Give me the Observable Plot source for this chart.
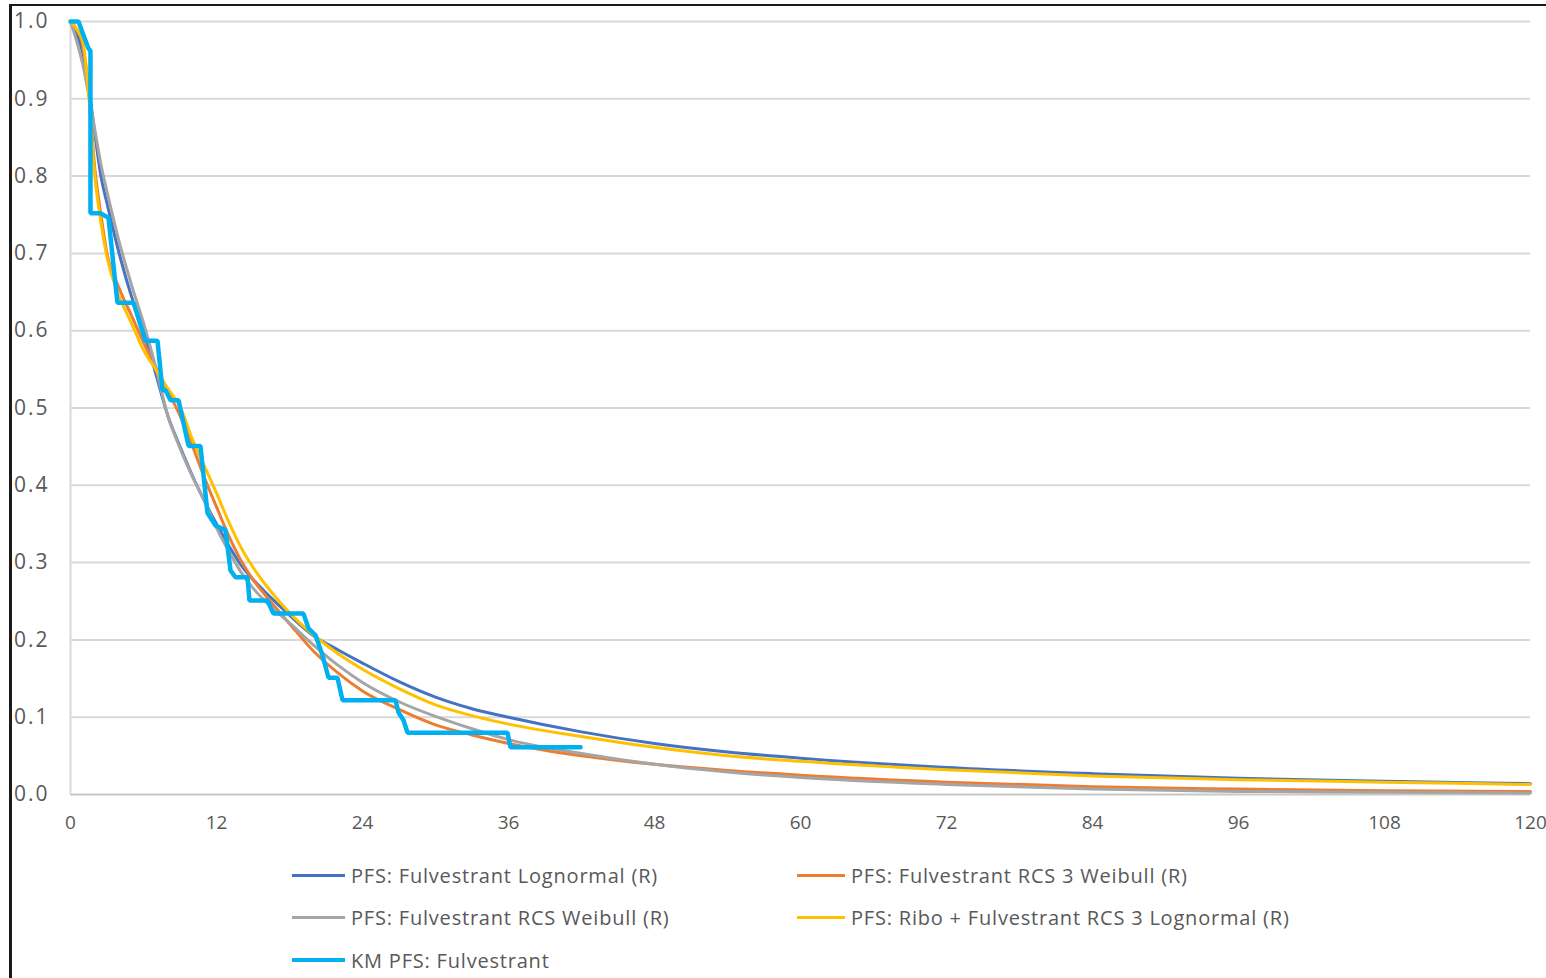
<!DOCTYPE html>
<html>
<head>
<meta charset="utf-8">
<script src="https://cdn.jsdelivr.net/npm/d3@7"></script>
<script src="https://cdn.jsdelivr.net/npm/@observablehq/plot@0.6"></script>
<style>
  html, body { margin: 0; padding: 0; background: #fff; }
  body { width: 1546px; height: 978px; position: relative; overflow: hidden; font-family: "Open Sans", sans-serif; }
  #frame { position: absolute; left: 9px; top: 4px; width: 1600px; height: 1000px; border-left: 3px solid #1a1a1a; border-top: 2px solid #1a1a1a; pointer-events: none; }
  #chart { position: absolute; left: 0; top: 0; }
  #chart g[aria-label="y-axis tick label"] text { letter-spacing: 2px; }
  .leg { position: absolute; display: flex; align-items: center; color: #595959; font-size: 20px; letter-spacing: 0.8px; white-space: nowrap; }
  .leg .sw { height: 3px; margin-right: 6px; }
</style>
</head>
<body>
<div id="chart"></div>
<div id="legend"></div>
<div id="frame"></div>
<script>
// ---- data (months, survival proportion) ----
const months = [0,0.5,1,1.5,2,2.5,3,4,5,6,7,8,9,10,11,12,13,14,15,16,18,20,22,24,27,30,33,36,42,48,54,60,72,84,96,108,120];
const fulvLognormal = [1,0.985,0.96,0.915,0.855,0.80,0.765,0.70,0.645,0.60,0.545,0.49,0.45,0.413,0.38,0.35,0.322,0.297,0.278,0.262,0.232,0.205,0.187,0.170,0.146,0.126,0.111,0.100,0.081,0.066,0.055,0.047,0.035,0.027,0.021,0.017,0.014];
const fulvRcs3Weibull = [1,0.99,0.97,0.91,0.81,0.75,0.70,0.655,0.62,0.585,0.553,0.522,0.49,0.452,0.41,0.372,0.335,0.303,0.278,0.258,0.221,0.185,0.157,0.134,0.110,0.090,0.077,0.066,0.050,0.039,0.031,0.025,0.016,0.010,0.007,0.005,0.004];
const fulvRcsWeibull = [1,0.975,0.945,0.905,0.86,0.815,0.78,0.715,0.66,0.61,0.553,0.49,0.448,0.412,0.38,0.345,0.315,0.288,0.267,0.25,0.222,0.193,0.167,0.145,0.12,0.101,0.085,0.071,0.053,0.039,0.029,0.022,0.013,0.007,0.004,0.003,0.002];
const riboFulvRcs3Lognormal = [1,0.99,0.975,0.905,0.80,0.74,0.695,0.645,0.61,0.575,0.55,0.525,0.502,0.46,0.425,0.39,0.353,0.32,0.294,0.272,0.235,0.206,0.182,0.162,0.137,0.116,0.102,0.091,0.075,0.061,0.050,0.043,0.032,0.024,0.019,0.016,0.013];

const kmTime = [0,0.66,1.07,1.48,1.64,1.64,2.47,3.12,3.86,5.18,6.16,7.15,7.56,7.81,8.22,8.88,9.70,10.68,11.26,11.92,12.74,13.15,13.56,14.55,14.71,16.19,16.68,19.15,19.56,20.14,20.71,21.21,21.94,22.36,26.71,26.96,27.37,27.70,35.92,36.16,41.92];
const kmSurv = [1,1,0.982,0.965,0.962,0.752,0.752,0.746,0.636,0.636,0.587,0.587,0.523,0.523,0.510,0.510,0.451,0.451,0.364,0.348,0.342,0.290,0.281,0.281,0.251,0.251,0.234,0.234,0.215,0.206,0.180,0.151,0.151,0.122,0.122,0.106,0.096,0.080,0.080,0.061,0.061];

const seriesNames = [
  "PFS: Fulvestrant Lognormal (R)",
  "PFS: Fulvestrant RCS 3 Weibull (R)",
  "PFS: Fulvestrant RCS Weibull (R)",
  "PFS: Ribo + Fulvestrant RCS 3 Lognormal (R)",
  "KM PFS: Fulvestrant"
];
const seriesColors = ["#4472C4", "#ED7D31", "#A5A5A5", "#FFC000", "#00B0F0"];
const xTicks = [0,12,24,36,48,60,72,84,96,108,120];
const yTicks = [0,0.1,0.2,0.3,0.4,0.5,0.6,0.7,0.8,0.9,1.0];

// ---- build tables ----
const curveArrays = [fulvLognormal, fulvRcs3Weibull, fulvRcsWeibull, riboFulvRcs3Lognormal];
const curveRows = curveArrays.map((arr, i) => months.map((m, j) => ({t: m, s: arr[j], name: seriesNames[i]})));
const kmRows = kmTime.map((t, i) => ({t, s: kmSurv[i], name: seriesNames[4]}));

const chart = Plot.plot({
  width: 1546,
  height: 845,
  marginTop: 21,
  marginBottom: 51,
  marginLeft: 70,
  marginRight: 16,
  style: {fontFamily: "Open Sans, sans-serif", fontSize: "19px", color: "#595959", background: "transparent"},
  x: {domain: [0, 120]},
  y: {domain: [0, 1]},
  marks: [
    Plot.ruleY(yTicks.filter(d => d > 0), {stroke: "#d9d9d9", strokeWidth: 2}),
    Plot.ruleY([0], {stroke: "#c8c8c8", strokeWidth: 2}),
    Plot.ruleX([0], {stroke: "#d9d9d9", strokeWidth: 2}),
    Plot.axisY({ticks: yTicks, tickFormat: d3.format(".1f"), tickSize: 0, tickPadding: 21, label: null, fill: "#595959", fontSize: 21}),
    Plot.axisX({ticks: xTicks, tickSize: 0, tickPadding: 21, label: null, fill: "#595959", fontSize: 19}),
    ...curveRows.map((rows, i) => Plot.line(rows, {x: "t", y: "s", stroke: seriesColors[i], strokeWidth: 3, curve: "monotone-x"})),
    Plot.line(kmRows, {x: "t", y: "s", stroke: seriesColors[4], strokeWidth: 4.5, strokeLinejoin: "miter"})
  ]
});
document.getElementById("chart").appendChild(chart);

// ---- legend ----
const legendPos = [
  {left: 292, top: 875, sw: 53},
  {left: 797, top: 875, sw: 48},
  {left: 292, top: 917, sw: 53},
  {left: 797, top: 917, sw: 48},
  {left: 292, top: 960, sw: 53}
];
const legend = document.getElementById("legend");
seriesNames.forEach((name, i) => {
  const item = document.createElement("div");
  item.className = "leg";
  item.style.left = legendPos[i].left + "px";
  item.style.top = (legendPos[i].top - 14) + "px";
  item.style.height = "28px";
  const sw = document.createElement("span");
  sw.className = "sw";
  sw.style.width = legendPos[i].sw + "px";
  sw.style.background = seriesColors[i];
  if (i === 4) sw.style.height = "4px";
  const tx = document.createElement("span");
  tx.textContent = name;
  item.appendChild(sw);
  item.appendChild(tx);
  legend.appendChild(item);
});
</script>
</body>
</html>
